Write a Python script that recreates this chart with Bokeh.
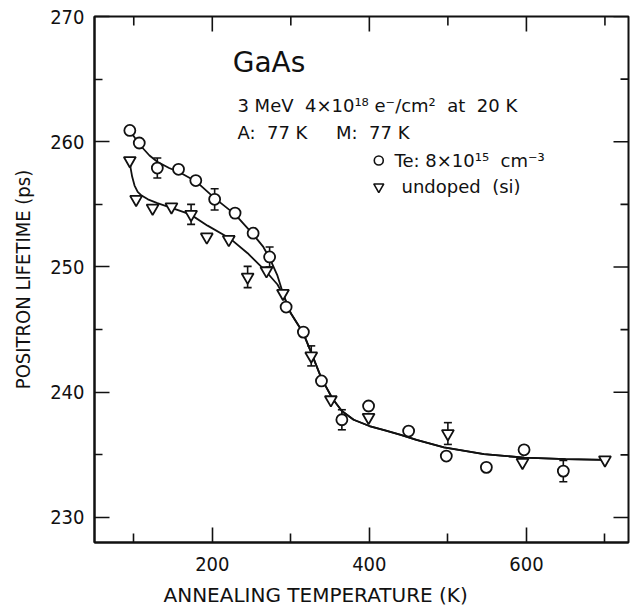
import math

from bokeh.plotting import figure
from bokeh.models import (ColumnDataSource, Whisker, TeeHead, FixedTicker,
                          Label, Range1d, Title)
from bokeh.embed import file_html
from bokeh.resources import INLINE

# ---- measured positron lifetimes ------------------------------------------
# Te-doped GaAs (8e15 cm^-3)
te_temp = [95, 107, 130, 157, 179, 203, 229, 252, 273, 294, 316, 339, 365,
           399, 450, 498, 549, 597, 647]
te_tau = [260.9, 259.9, 257.9, 257.8, 256.9, 255.4, 254.3, 252.7, 250.8,
          246.8, 244.8, 240.9, 237.8, 238.9, 236.9, 234.9, 234.0, 235.4, 233.7]
# points carrying error bars
te_err_temp = [130, 203, 273, 365, 647]
te_err_tau = [257.9, 255.4, 250.8, 237.8, 233.7]
te_err_size = [0.8, 0.85, 0.8, 0.8, 0.85]

# undoped (semi-insulating) GaAs
un_temp = [95, 103, 124, 148, 173, 193, 221, 245, 269, 290, 326, 351, 399,
           500, 595, 700]
un_tau = [258.5, 255.4, 254.7, 254.8, 254.2, 252.4, 252.2, 249.2, 249.7,
          247.9, 242.9, 239.4, 238.0, 236.7, 234.4, 234.6]
un_err_temp = [173, 245, 326, 500]
un_err_tau = [254.2, 249.2, 242.9, 236.7]
un_err_size = [0.8, 0.85, 0.8, 0.87]

# ---- guide-to-the-eye curves ----------------------------------------------
te_fit_temp = [95, 107, 120, 130, 145, 157, 180, 203, 229, 252, 265, 273, 283]
te_fit_tau = [260.9, 259.8, 258.9, 258.4, 257.9, 257.6, 256.8, 255.5, 254.2,
              252.6, 251.6, 250.7, 249.3]
un_fit_temp = [95, 96, 98, 101, 105, 110, 118, 130, 149, 172, 194, 222, 245,
               269, 283]
un_fit_tau = [258.5, 257.9, 257.2, 256.5, 256.0, 255.7, 255.4, 255.1, 254.7,
              254.2, 253.3, 252.3, 251.1, 249.6, 248.6]
# common high-temperature branch shared by both samples
tail_temp = [291, 300, 316, 327, 339, 353, 365, 380, 400, 420, 440, 460, 495,
             546, 597, 650, 700]
tail_tau = [247.7, 246.3, 244.7, 243.0, 241.1, 239.5, 238.5, 237.8, 237.3,
            236.95, 236.6, 236.2, 235.6, 235.05, 234.78, 234.66, 234.6]

x_major = [200, 400, 600]
x_minor = [100, 300, 500, 700]
y_major = [230, 240, 250, 260, 270]
y_minor = [235, 245, 255, 265]

X_LO, X_HI = 50, 730
Y_LO, Y_HI = 228, 270

TICK_FONT = "DejaVu Sans Condensed"
NOTE_FONT = "DejaVu Sans"
INK = "#111111"
SP = "\u00a0"

p = figure(width=633, height=615, output_backend="svg", toolbar_location=None,
           x_range=Range1d(X_LO, X_HI), y_range=Range1d(Y_LO, Y_HI),
           min_border_left=94, min_border_right=5, min_border_top=16,
           min_border_bottom=73, background_fill_color="white",
           border_fill_color="white")
p.grid.visible = False
p.outline_line_color = INK
p.outline_line_width = 2


def style_axis(ax, ticks, minor, long_tick, short_tick):
    ax.ticker = FixedTicker(ticks=ticks, minor_ticks=minor)
    ax.axis_line_color = INK
    ax.axis_line_width = 2
    ax.major_tick_line_color = INK
    ax.major_tick_line_width = 1.6
    ax.minor_tick_line_color = INK
    ax.minor_tick_line_width = 1.6
    ax.major_tick_in = long_tick
    ax.major_tick_out = 0
    ax.minor_tick_in = short_tick
    ax.minor_tick_out = 0
    ax.major_label_text_font = TICK_FONT
    ax.major_label_text_font_size = "20px"
    ax.major_label_text_color = INK


style_axis(p.xaxis[0], x_major, x_minor, 15, 9)
style_axis(p.yaxis[0], y_major, y_minor, 15, 8)
p.xaxis[0].major_label_standoff = 14
p.yaxis[0].major_label_standoff = 10

p.yaxis[0].axis_label = "POSITRON LIFETIME (ps)"
p.yaxis[0].axis_label_text_font = TICK_FONT
p.yaxis[0].axis_label_text_font_size = "20px"
p.yaxis[0].axis_label_text_font_style = "normal"
p.yaxis[0].axis_label_text_color = INK
p.yaxis[0].axis_label_standoff = 12

# x axis title, set a little left of the frame centre
p.add_layout(Title(text="ANNEALING TEMPERATURE (K)", align="left", offset=69,
                   text_font=NOTE_FONT, text_font_size="20px",
                   text_font_style="normal", text_color=INK, standoff=14),
             "below")

# mirrored inward ticks on the top and right frame edges
p.ray(x=x_major, y=Y_HI, length=15, length_units="screen",
      angle=-math.pi / 2, line_color=INK, line_width=1.6)
p.ray(x=x_minor, y=Y_HI, length=9, length_units="screen",
      angle=-math.pi / 2, line_color=INK, line_width=1.6)
p.ray(x=X_HI, y=y_major, length=15, length_units="screen",
      angle=math.pi, line_color=INK, line_width=1.6)
p.ray(x=X_HI, y=y_minor, length=8, length_units="screen",
      angle=math.pi, line_color=INK, line_width=1.6)

# curves
p.line(te_fit_temp + tail_temp, te_fit_tau + tail_tau, line_color=INK,
       line_width=1.8)
p.line(un_fit_temp + tail_temp, un_fit_tau + tail_tau, line_color=INK,
       line_width=1.8)

# error bars
for temps, taus, errs in ((te_err_temp, te_err_tau, te_err_size),
                          (un_err_temp, un_err_tau, un_err_size)):
    src = ColumnDataSource(dict(x=temps,
                                lo=[t - e for t, e in zip(taus, errs)],
                                hi=[t + e for t, e in zip(taus, errs)]))
    w = Whisker(source=src, base="x", lower="lo", upper="hi",
                line_color=INK, line_width=1.6,
                upper_head=TeeHead(size=8, line_color=INK, line_width=1.6),
                lower_head=TeeHead(size=8, line_color=INK, line_width=1.6))
    p.add_layout(w)

# data markers
p.scatter(te_temp, te_tau, marker="circle", size=11, fill_color="white",
          line_color=INK, line_width=1.8)
p.scatter(un_temp, un_tau, marker="inverted_triangle", size=12,
          fill_color="white", line_color=INK, line_width=1.8)

# annotation block
p.add_layout(Label(x=226, y=266.3, text="GaAs", text_font=NOTE_FONT,
                   text_font_size="28px", text_color=INK,
                   text_baseline="middle"))
p.add_layout(Label(x=232, y=262.9,
                   text=f"3{SP}MeV{SP}{SP}4\u00d710\u00b9\u2078{SP}e\u207b/cm\u00b2"
                        f"{SP}{SP}at{SP}{SP}20{SP}K",
                   text_font=NOTE_FONT, text_font_size="18px", text_color=INK,
                   text_baseline="middle"))
p.add_layout(Label(x=232, y=260.7,
                   text=f"A:{SP}{SP}77{SP}K{SP * 5}M:{SP}{SP}77{SP}K",
                   text_font=NOTE_FONT, text_font_size="18px", text_color=INK,
                   text_baseline="middle"))

# legend
p.scatter([412], [258.5], marker="circle", size=9, fill_color="white",
          line_color=INK, line_width=1.6)
p.scatter([412], [256.4], marker="inverted_triangle", size=10,
          fill_color="white", line_color=INK, line_width=1.6)
p.add_layout(Label(x=432, y=258.5,
                   text=f"Te:{SP}8\u00d710\u00b9\u2075{SP}{SP}cm\u207b\u00b3",
                   text_font=NOTE_FONT, text_font_size="18px", text_color=INK,
                   text_baseline="middle"))
p.add_layout(Label(x=441, y=256.4, text=f"undoped{SP}{SP}(si)",
                   text_font=NOTE_FONT, text_font_size="18px", text_color=INK,
                   text_baseline="middle"))

open("out.html", "w").write(file_html(p, INLINE))
